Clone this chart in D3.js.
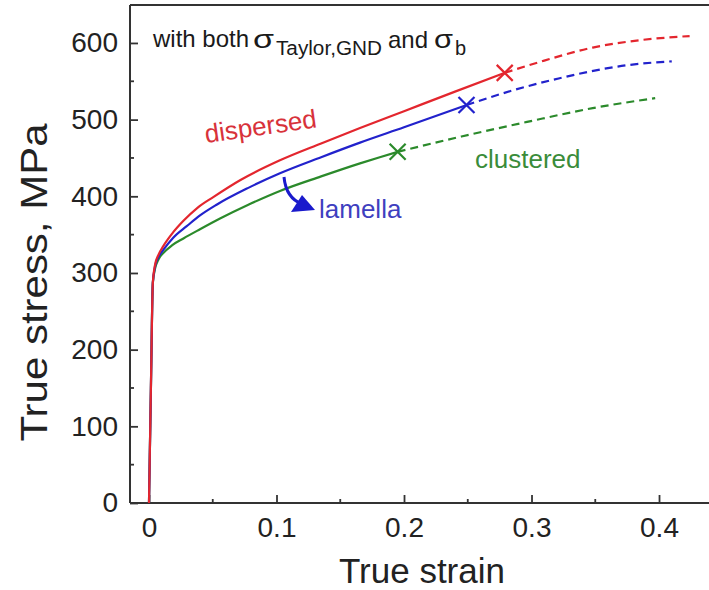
<!DOCTYPE html>
<html>
<head>
<meta charset="utf-8">
<script src="https://cdn.jsdelivr.net/npm/d3@7"></script>
<style>
  html, body { margin: 0; padding: 0; background: #fff; }
  svg { display: block; font-family: "Liberation Sans", Arial, sans-serif; }
</style>
</head>
<body>
<svg id="chart" width="709" height="590"></svg>
<script>
// ---- data (true strain, true stress in MPa) ----
const dispersedSolid = [[0,0],[0.0015,150],[0.003,287],[0.0048,311],[0.0075,324],[0.0112,335],[0.018,351],[0.027,368],[0.038,385],[0.0504,399],[0.0714,421],[0.1027,447],[0.135,469],[0.1655,489],[0.2,511],[0.24,536.5],[0.279,561]];
const dispersedDash  = [[0.279,561],[0.31,577],[0.348,594],[0.387,604],[0.424,609]];
const lamellaSolid   = [[0,0],[0.0015,150],[0.003,287],[0.0048,309],[0.0075,321],[0.0112,330],[0.019,346],[0.0296,361],[0.04,375],[0.053,389],[0.0779,411],[0.1027,430],[0.135,451],[0.1655,470],[0.2,490],[0.249,519]];
const lamellaDash    = [[0.249,519],[0.285,538],[0.322,554],[0.375,571],[0.41,576]];
const clusteredSolid = [[0,0],[0.0015,150],[0.003,287],[0.0048,306],[0.0075,318],[0.0112,326],[0.018,336],[0.027,345],[0.04,357],[0.0557,371],[0.0779,389],[0.1027,407],[0.135,426],[0.1655,443],[0.181,451],[0.195,458]];
const clusteredDash  = [[0.195,458],[0.245,478],[0.2965,497],[0.348,515],[0.397,528]];
const failurePoints  = [[0.279,561],[0.249,519],[0.195,458]];
const seriesNames    = ["dispersed","lamella","clustered"];
const seriesColors   = ["#e3262e","#2222cc","#2b8a2b"];
const xTickValues    = [0,0.1,0.2,0.3,0.4];
const xTickLabels    = ["0","0.1","0.2","0.3","0.4"];
const xMinorValues   = [0.05,0.15,0.25,0.35];
const yTickValues    = [0,100,200,300,400,500,600];
const yTickLabels    = ["0","100","200","300","400","500","600"];
const yMinorValues   = [50,150,250,350,450,550];

const svg = d3.select("#chart");
const L = 130, R = 709, T = 5, B = 503;
const x = d3.scaleLinear().domain([-0.0149, 0.4392]).range([L, R]);
const y = d3.scaleLinear().domain([0, 649.5]).range([B, T]);
const AX = "#333";

// frame top line
svg.append("line").attr("x1", L).attr("x2", R + 5).attr("y1", T).attr("y2", T)
  .attr("stroke", AX).attr("stroke-width", 2);

// x axis
const xAxis = d3.axisBottom(x).tickValues(xTickValues).tickFormat((d,i)=>xTickLabels[i])
  .tickSizeInner(-8).tickSizeOuter(0).tickPadding(14);
const gx = svg.append("g").attr("transform", `translate(0,${B})`).call(xAxis);
gx.select(".domain").attr("d", `M${L},0H${R+5}`).attr("stroke", AX).attr("stroke-width", 2);
gx.selectAll(".tick line").attr("stroke", AX).attr("stroke-width", 1.8);
gx.selectAll(".tick text").attr("font-size", 28).attr("fill", "#222").attr("dy", "0.71em")
  .attr("font-family", "Liberation Sans, Arial, sans-serif");
svg.append("g").selectAll("line").data(xMinorValues).join("line")
  .attr("x1", d=>x(d)).attr("x2", d=>x(d)).attr("y1", B).attr("y2", B-4)
  .attr("stroke", AX).attr("stroke-width", 1.8);

// y axis
const yAxis = d3.axisLeft(y).tickValues(yTickValues).tickFormat((d,i)=>yTickLabels[i])
  .tickSizeInner(-8).tickSizeOuter(0).tickPadding(12);
const gy = svg.append("g").attr("transform", `translate(${L},0)`).call(yAxis);
gy.select(".domain").attr("d", `M0,${B}V${T}`).attr("stroke", AX).attr("stroke-width", 2);
gy.selectAll(".tick line").attr("stroke", AX).attr("stroke-width", 1.8);
gy.selectAll(".tick text").attr("font-size", 28).attr("fill", "#222")
  .attr("font-family", "Liberation Sans, Arial, sans-serif");
svg.append("g").selectAll("line").data(yMinorValues).join("line")
  .attr("x1", L).attr("x2", L+4).attr("y1", d=>y(d)).attr("y2", d=>y(d))
  .attr("stroke", AX).attr("stroke-width", 1.8);

// axis titles
svg.append("text").attr("x", 422).attr("y", 583).attr("text-anchor", "middle")
  .attr("font-size", 35).attr("fill", "#222").text("True strain");
svg.append("text").attr("transform", "translate(47,282.5) rotate(-90)").attr("text-anchor", "middle")
  .attr("font-size", 37).attr("textLength", 318).attr("lengthAdjust", "spacingAndGlyphs")
  .attr("fill", "#222").text("True stress, MPa");

// curves
const line = d3.line().x(d=>x(d[0])).y(d=>y(d[1])).curve(d3.curveMonotoneX);
const solids = [dispersedSolid, lamellaSolid, clusteredSolid];
const dashes = [dispersedDash, lamellaDash, clusteredDash];
[2,1,0].forEach(i => {
  svg.append("path").datum(solids[i]).attr("d", line).attr("fill", "none")
    .attr("stroke", seriesColors[i]).attr("stroke-width", 2.2).attr("stroke-linejoin", "round");
  svg.append("path").datum(dashes[i]).attr("d", line).attr("fill", "none")
    .attr("stroke", seriesColors[i]).attr("stroke-width", 2.2).attr("stroke-dasharray", "8,5");
});
// X markers at failure
failurePoints.forEach((p,i) => {
  const cx = x(p[0]), cy = y(p[1]), s = 8;
  svg.append("path").attr("d", `M${cx-s},${cy-s}L${cx+s},${cy+s}M${cx-s},${cy+s}L${cx+s},${cy-s}`)
    .attr("stroke", seriesColors[i]).attr("stroke-width", 2.2).attr("fill", "none");
});

// series labels
svg.append("text").attr("transform", "translate(206,143) rotate(-8)")
  .attr("font-size", 26).attr("fill", "#d8323a").text(seriesNames[0]);
svg.append("text").attr("x", 475).attr("y", 168).attr("font-size", 26).attr("fill", "#3a8c3a").text(seriesNames[2]);
svg.append("text").attr("x", 319).attr("y", 218).attr("font-size", 26).attr("fill", "#3f3fbf").text(seriesNames[1]);

// curved arrow for lamella
svg.append("path").attr("d", "M284,177 Q286,198 302,204").attr("fill", "none")
  .attr("stroke", "#1a1acc").attr("stroke-width", 3);
svg.append("path").attr("d", "M315,210 L291,212 L302,195 Z").attr("fill", "#1a1acc");

// annotation
const ann = svg.append("g").attr("fill", "#1a1a1a");
ann.append("text").attr("x", 153).attr("y", 47).attr("font-size", 24).text("with both");
ann.append("text").attr("x", 253).attr("y", 48).attr("font-size", 25)
  .attr("textLength", 21).attr("lengthAdjust", "spacingAndGlyphs").text("σ");
ann.append("text").attr("x", 276).attr("y", 55).attr("font-size", 20)
  .attr("textLength", 106).attr("lengthAdjust", "spacingAndGlyphs").text("Taylor,GND");
ann.append("text").attr("x", 388).attr("y", 48).attr("font-size", 24).text("and");
ann.append("text").attr("x", 434).attr("y", 48).attr("font-size", 25)
  .attr("textLength", 19).attr("lengthAdjust", "spacingAndGlyphs").text("σ");
ann.append("text").attr("x", 455).attr("y", 55).attr("font-size", 20).text("b");
</script>
</body>
</html>
